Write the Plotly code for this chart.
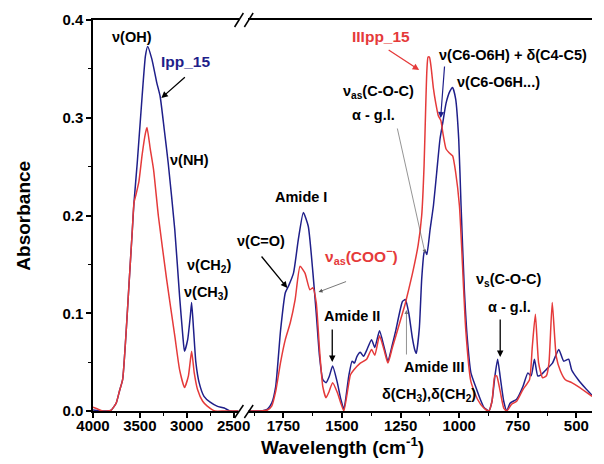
import plotly.graph_objects as go

# ---------------- data ----------------
# high-wavenumber segment (4000-2450 cm-1)
blue_hi_w = [4000, 3900, 3850, 3805, 3753, 3719, 3684, 3649, 3615, 3580, 3563, 3528, 3476, 3441, 3417,
             3372, 3320, 3284, 3240, 3198, 3128, 3076, 3042, 3024, 2990, 2962, 2948, 2927, 2903, 2868,
             2816, 2750, 2677, 2600, 2538, 2448]
blue_hi_a = [0.001, 0.0, 0.0, 0.001, 0.008, 0.02, 0.032, 0.077, 0.131, 0.186, 0.213, 0.254, 0.322, 0.363, 0.373,
             0.36, 0.336, 0.322, 0.288, 0.254, 0.186, 0.117, 0.077, 0.061, 0.073, 0.097, 0.111, 0.083, 0.05, 0.029,
             0.015, 0.009, 0.005, 0.003, 0.0, 0.0]
red_hi_w = [4000, 3950, 3900, 3850, 3805, 3753, 3719, 3684, 3649, 3615, 3580, 3563, 3540, 3510, 3476, 3441, 3424,
            3389, 3354, 3302, 3215, 3128, 3076, 3024, 2982, 2948, 2920, 2885, 2830, 2781, 2700, 2600, 2448]
red_hi_a = [0.004, 0.002, 0.0, 0.0, 0.001, 0.008, 0.02, 0.032, 0.077, 0.131, 0.186, 0.213, 0.222, 0.235, 0.262, 0.284, 0.29,
            0.268, 0.247, 0.199, 0.135, 0.077, 0.042, 0.024, 0.036, 0.061, 0.039, 0.022, 0.01, 0.005, 0.0, 0.0, 0.0]

# low-wavenumber segment (1900-433 cm-1)
blue_lo_w = [1900, 1850, 1818, 1800, 1783, 1762, 1742, 1728, 1707, 1686, 1665, 1644, 1624, 1610, 1596, 1582,
             1568, 1555, 1540, 1520, 1505, 1492, 1471, 1457, 1447, 1436, 1422, 1408, 1395, 1374, 1360, 1340,
             1320, 1304, 1285, 1270, 1242, 1230, 1215, 1200, 1190, 1183, 1170, 1160, 1150, 1145, 1138, 1124,
             1110, 1096, 1082, 1070, 1056, 1040, 1028, 1015, 1002, 992, 978, 965, 950, 930, 910, 895, 874,
             860, 848, 836, 825, 810, 797, 783, 755, 728, 707, 693, 679, 665, 651, 630, 602, 575, 554, 533,
             520, 492, 464, 433]
blue_lo_a = [0.0, 0.0, 0.002, 0.008, 0.025, 0.083, 0.121, 0.128, 0.141, 0.176, 0.203, 0.189, 0.141, 0.1, 0.056, 0.032,
             0.029, 0.035, 0.046, 0.029, 0.012, 0.002, 0.036, 0.051, 0.049, 0.056, 0.06, 0.056, 0.062, 0.073, 0.065, 0.082,
             0.065, 0.051, 0.068, 0.083, 0.112, 0.114, 0.1, 0.075, 0.063, 0.059, 0.085, 0.135, 0.162, 0.164, 0.16, 0.186,
             0.21, 0.244, 0.278, 0.295, 0.315, 0.327, 0.331, 0.319, 0.278, 0.21, 0.124, 0.073, 0.039, 0.025, 0.012, 0.004, 0.0,
             0.01, 0.035, 0.053, 0.035, 0.01, 0.0, 0.008, 0.012, 0.025, 0.039, 0.036, 0.053, 0.036, 0.037, 0.042, 0.049, 0.063, 0.051, 0.053,
             0.042, 0.032, 0.024, 0.016]
red_lo_w = [1900, 1850, 1818, 1800, 1783, 1762, 1742, 1721, 1700, 1679, 1658, 1637, 1624, 1610, 1596, 1582,
            1568, 1555, 1540, 1520, 1505, 1492, 1464, 1450, 1422, 1395, 1374, 1360, 1340, 1320, 1304, 1285,
            1270, 1242, 1230, 1200, 1175, 1160, 1150, 1143, 1138, 1133, 1127, 1120, 1110, 1100, 1089, 1078, 1070,
            1056, 1042, 1028, 1015, 999, 990, 972, 950, 922, 895, 874, 860, 848, 840, 825, 810, 797, 776,
            755, 728, 700, 688, 675, 661, 644, 628, 617, 603, 586, 568, 547, 520, 492, 433]
red_lo_a = [0.0, 0.0, 0.001, 0.005, 0.02, 0.05, 0.073, 0.09, 0.114, 0.148, 0.141, 0.124, 0.126, 0.111, 0.063, 0.025,
            0.0135, 0.02, 0.029, 0.019, 0.008, 0.0, 0.037, 0.042, 0.049, 0.053, 0.063, 0.057, 0.077, 0.062, 0.049, 0.065,
            0.077, 0.1, 0.11, 0.14, 0.17, 0.2, 0.25, 0.31, 0.348, 0.362, 0.362, 0.352, 0.33, 0.315, 0.302, 0.297, 0.285,
            0.268, 0.264, 0.261, 0.244, 0.21, 0.17, 0.083, 0.03, 0.012, 0.003, 0.0, 0.01, 0.036, 0.036, 0.02, 0.003, 0.0, 0.007,
            0.01, 0.022, 0.032, 0.066, 0.099, 0.049, 0.034, 0.036, 0.049, 0.111, 0.056, 0.041, 0.032, 0.029, 0.025, 0.015]

hi_ticks = [4000, 3500, 3000, 2500]
hi_minor = [3750, 3250, 2750]
lo_ticks = [1750, 1500, 1250, 1000, 750, 500]
lo_minor = [1875, 1625, 1375, 1125, 875, 625]
y_ticks = [0.0, 0.1, 0.2, 0.3, 0.4]
y_ticktext = ["0.0", "0.1", "0.2", "0.3", "0.4"]
y_minor = [0.05, 0.15, 0.25, 0.35]

BLUE = "#1f1f8a"
RED = "#e53a3a"
FONT = "Liberation Sans, Arial, sans-serif"

# ---------------- layout geometry ----------------
# target plot area on screen: x 93..604, y 20..411 (body margin removed below)
W, H = 604, 464
L, T = 93, 20
PW = W - L
PH = 411 - T
B = H - T - PH
R = 0


def px(x, y):
    """screen pixel -> paper coordinates"""
    return (x - L) / PW, (T + PH - y) / PH


fig = go.Figure()
line_kw = dict(shape="spline", smoothing=0.5, width=1.5)
fig.add_trace(go.Scatter(x=blue_hi_w, y=blue_hi_a, xaxis="x", yaxis="y", mode="lines",
                         line=dict(color=BLUE, **line_kw), showlegend=False))
fig.add_trace(go.Scatter(x=red_hi_w, y=red_hi_a, xaxis="x", yaxis="y", mode="lines",
                         line=dict(color=RED, **line_kw), showlegend=False))
fig.add_trace(go.Scatter(x=blue_lo_w, y=blue_lo_a, xaxis="x2", yaxis="y", mode="lines",
                         line=dict(color=BLUE, **line_kw), showlegend=False))
fig.add_trace(go.Scatter(x=red_lo_w, y=red_lo_a, xaxis="x2", yaxis="y", mode="lines",
                         line=dict(color=RED, **line_kw), showlegend=False))

tickfont = dict(family=FONT, size=15, color="black", weight="bold")
axis_common = dict(showline=True, linecolor="black", linewidth=1.5, mirror=True, ticks="outside",
                   ticklen=5, tickwidth=1.5, tickcolor="black", showgrid=False, zeroline=False,
                   tickfont=tickfont, ticklabelstandoff=-5)

d1 = px(242, 0)[0]
d2 = px(252, 0)[0]
fig.update_layout(
    width=W, height=H, margin=dict(l=L, r=R, t=T, b=B, pad=0),
    paper_bgcolor="white", plot_bgcolor="white",
    xaxis=dict(domain=[0, d1], range=[4000, 4000 - (242 - 93) / 0.096], tickvals=hi_ticks,
               minor=dict(tickvals=hi_minor, ticklen=3, tickwidth=1.2, tickcolor="black", ticks="outside"),
               anchor="y", **axis_common),
    xaxis2=dict(domain=[d2, 1], range=[1750 + (288 - 252) / 0.24, 1750 - (604 - 288) / 0.24], tickvals=lo_ticks,
                minor=dict(tickvals=lo_minor, ticklen=3, tickwidth=1.2, tickcolor="black", ticks="outside"),
                anchor="y", **axis_common),
    yaxis=dict(domain=[0, 1], range=[0, 0.4], tickvals=y_ticks, ticktext=y_ticktext,
               minor=dict(tickvals=y_minor, ticklen=3, tickwidth=1.2, tickcolor="black", ticks="outside"),
               anchor="x", showline=True, linecolor="black", linewidth=1.5, ticks="outside", ticklen=5,
               tickwidth=1.5, tickcolor="black", showgrid=False, zeroline=False, tickfont=tickfont),
)

# break marks
for (yb, yt) in [(418, 405), (27, 13)]:
    for x0 in (238, 248):
        a = px(x0, yb)
        b = px(x0 + 9, yt)
        fig.add_shape(type="line", xref="paper", yref="paper", x0=a[0], y0=a[1], x1=b[0], y1=b[1],
                      line=dict(color="black", width=1.5))


def text(s, x, y, color="black", size=14.5, angle=0):
    p = px(x, y)
    fig.add_annotation(text=s, x=p[0], y=p[1], xref="paper", yref="paper", showarrow=False,
                       xanchor="center", yanchor="middle", textangle=angle,
                       font=dict(family=FONT, size=size, color=color, weight="bold"))


def arrow(x0, y0, x1, y1, color="black", width=1.3, head=2, size=1.0):
    p = px(x1, y1)
    fig.add_annotation(text="", x=p[0], y=p[1], xref="paper", yref="paper", showarrow=True,
                       ax=x0 - x1, ay=y0 - y1, arrowcolor=color, arrowwidth=width, arrowhead=head,
                       arrowsize=size)


text("ν(OH)", 133, 37)
text("Ipp_15", 188, 62, color=BLUE, size=15.5)
arrow(188, 76, 163, 98)
text("ν(NH)", 192, 160)
text("ν(CH<sub>2</sub>)", 212, 266)
text("ν(CH<sub>3</sub>)", 209, 293)
text("Amide I", 306, 197)
text("ν(C=O)", 265, 241)
arrow(265, 255, 292, 288)
text("ν<sub>as</sub>(COO<sup>−</sup>)", 368, 256, color=RED, size=15.5)
arrow(353, 281, 324, 292, color="#555555", width=0.8)
text("Amide II", 358, 316)
arrow(338, 328, 338, 362)
text("δ(CH<sub>3</sub>),δ(CH<sub>2</sub>)", 437, 395)
text("Amide III", 442, 367)
arrow(414, 356, 414, 310, color="#777777", width=0.8)
text("IIIpp_15", 388, 36, color=RED, size=15.5)
arrow(395, 49, 427, 70, color=RED, width=1.3)
text("ν<sub>as</sub>(C-O-C)", 385, 92)
text("α - g.l.", 380, 115)
arrow(405, 127, 433, 253, color="#666666", width=0.7)
text("ν(C6-O6H) + δ(C4-C5)", 523, 55)
arrow(453, 65, 449, 118, color=BLUE, width=1.2)
text("ν(C6-O6H...)", 508, 82)
text("ν<sub>s</sub>(C-O-C)", 519, 280)
text("α - g.l.", 520, 307)
arrow(510, 318, 510, 357)

text("Absorbance", 21, 216, size=19, angle=-90)
text("Wavelength (cm<sup>-1</sup>)", 349, 446, size=19)

fig.write_html("out.html", config={"displayModeBar": False},
               post_script="document.body.style.margin='0';document.body.style.overflow='hidden';")
